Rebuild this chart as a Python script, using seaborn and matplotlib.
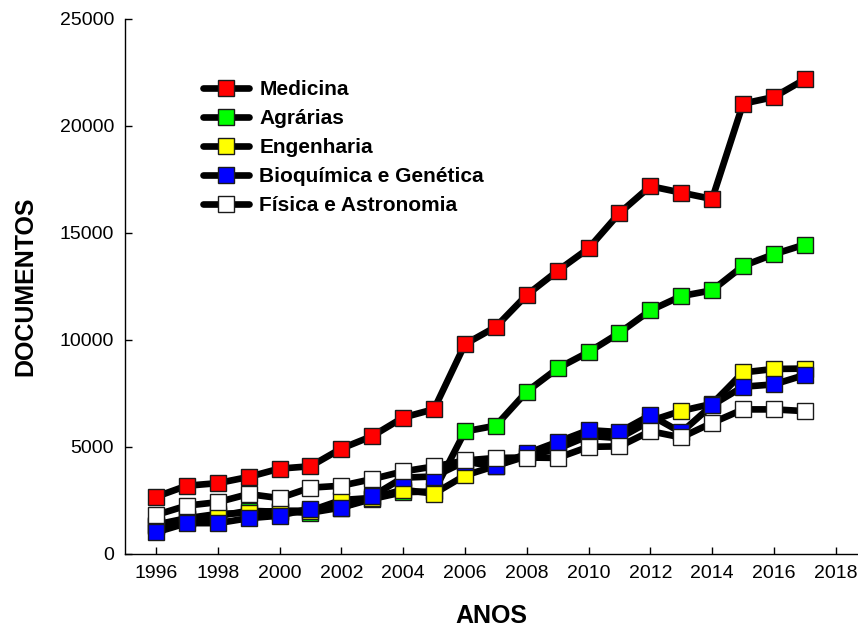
import matplotlib
matplotlib.use("Agg")
import matplotlib.pyplot as plt
import seaborn as sns
import pandas as pd

years = list(range(1996, 2018))

medicina = [2650, 3170, 3290, 3580, 3970, 4080, 4910, 5490, 6360, 6750, 9790,
            10600, 12090, 13220, 14270, 15920, 17180, 16880, 16580, 21040, 21350, 22180]
agrarias = [1300, 1600, 1750, 2000, 1950, 1910, 2150, 2550, 2870, 2900, 5710,
            5980, 7570, 8660, 9420, 10320, 11370, 12040, 12310, 13450, 14000, 14450]
engenharia = [1350, 1650, 1850, 1900, 2000, 2000, 2500, 2600, 2980, 2800, 3650,
              4100, 4550, 4900, 5500, 5400, 6200, 6670, 7000, 8470, 8630, 8650]
bioquimica = [990, 1420, 1420, 1650, 1770, 2100, 2120, 2680, 3550, 3600, 4300,
              4070, 4680, 5220, 5770, 5680, 6470, 5660, 6940, 7800, 7910, 8350]
fisica = [1800, 2240, 2400, 2780, 2590, 3080, 3170, 3480, 3840, 4070, 4350,
          4470, 4490, 4470, 4990, 5010, 5720, 5430, 6110, 6740, 6740, 6660]

series_names = ["Medicina", "Agrárias", "Engenharia", "Bioquímica e Genética", "Física e Astronomia"]
series_values = [medicina, agrarias, engenharia, bioquimica, fisica]
face_colors = ["#ff0000", "#00ff00", "#ffff00", "#0000ff", "#ffffff"]

x_ticks = list(range(1996, 2019, 2))
y_ticks = [0, 5000, 10000, 15000, 20000, 25000]

sns.set_theme(style="white")
plt.rcParams["font.family"] = ["Liberation Sans", "DejaVu Sans"]
plt.rcParams["text.color"] = "black"
plt.rcParams["axes.labelcolor"] = "black"
plt.rcParams["xtick.color"] = "black"
plt.rcParams["ytick.color"] = "black"

fig = plt.figure(figsize=(8.58, 6.33), dpi=100)
W, H = 858, 633
ax = fig.add_axes([125 / W, 1 - 553.5 / H, (W - 125) / W, (553.5 - 19) / H])

for name, vals, fc in zip(series_names, series_values, face_colors):
    df = pd.DataFrame({"ANOS": years, "DOCUMENTOS": vals})
    sns.lineplot(data=df, x="ANOS", y="DOCUMENTOS", ax=ax, color="black",
                 linewidth=4.8, marker="s", markersize=12, markerfacecolor=fc,
                 markeredgecolor="#1a1a1a", markeredgewidth=1.0, label=name)

ax.set_xlim(1995.0, 2018.72)
ax.set_ylim(0, 25000)
ax.set_xticks(x_ticks)
ax.set_yticks(y_ticks)
ax.set_xticklabels([str(t) for t in x_ticks])
ax.set_yticklabels([str(t) for t in y_ticks])
ax.tick_params(axis="both", direction="in", length=5, width=1, colors="black",
               labelcolor="black", labelsize=14, pad=8, bottom=True, left=True)

for s in ["top", "right"]:
    ax.spines[s].set_visible(False)
for s in ["left", "bottom"]:
    ax.spines[s].set_visible(True)
    ax.spines[s].set_color("black")
    ax.spines[s].set_linewidth(1.0)
ax.grid(False)

ax.set_xlabel("ANOS", fontsize=18, fontweight="bold", color="black")
ax.set_ylabel("DOCUMENTOS", fontsize=18, fontweight="bold", color="black")
ax.xaxis.set_label_coords(0.5, -0.095)
ax.yaxis.set_label_coords(-0.12, 0.5)

leg = ax.legend(loc="upper left",
                bbox_to_anchor=((203 - 125) / (W - 125), (553.5 - 80) / (553.5 - 19)),
                frameon=False, prop={"weight": "bold", "size": 15},
                handlelength=2.2, handletextpad=0.5, labelspacing=0.48, borderpad=0,
                borderaxespad=0)
for t in leg.get_texts():
    t.set_color("black")

fig.savefig("out.png", dpi=100, facecolor="white")
